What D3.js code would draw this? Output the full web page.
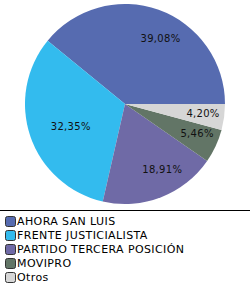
<!DOCTYPE html>
<html>
<head>
<meta charset="utf-8">
<script src="https://cdn.jsdelivr.net/npm/d3@7"></script>
<style>
  body { margin: 0; background: #fff; }
  svg { display: block; font-family: "DejaVu Sans", Verdana, sans-serif; }
</style>
</head>
<body>
<div id="chart"></div>
<script>
const parties = ['AHORA SAN LUIS', 'FRENTE JUSTICIALISTA', 'PARTIDO TERCERA POSICIÓN', 'MOVIPRO', 'Otros']
const shares = [39.08, 32.35, 18.91, 5.46, 4.20]
const colors = ['#566bb0', '#33bbee', '#6f6aa6', '#627566', '#d6d6d6']

const WIDTH = 250
const HEIGHT = 285

const pieChart = (width, height) => {
  const data = parties.map((name, i) => ({ name, value: shares[i] }))

  const color = d3.scaleOrdinal().domain(parties).range(colors)
  const fmt = (v) => d3.format('.2f')(v).replace('.', ',') + '%'

  const svg = d3
    .select('#chart')
    .append('svg')
      .attr('width', width)
      .attr('height', height)

  const cx = 125
  const cy = 104
  const r = 100

  // counterclockwise from 3 o'clock
  const pie = d3
    .pie()
    .sort(null)
    .value((d) => d.value)
    .startAngle(Math.PI / 2)
    .endAngle(Math.PI / 2 - 2 * Math.PI)

  const arc = d3.arc().innerRadius(0).outerRadius(r)
  const labelArc = d3.arc().innerRadius(70).outerRadius(70)

  const g = svg.append('g').attr('transform', `translate(${cx},${cy})`)
  const arcs = pie(data)

  g.selectAll('path')
    .data(arcs)
    .join('path')
      .attr('d', arc)
      .attr('fill', (d) => color(d.data.name))

  // label starts a little left of the centroid
  g.selectAll('text')
    .data(arcs)
    .join('text')
      .attr('x', (d) => labelArc.centroid(d)[0] - 8)
      .attr('y', (d) => labelArc.centroid(d)[1])
      .attr('dy', '0.35em')
      .attr('font-size', 10)
      .attr('letter-spacing', 0.3)
      .attr('fill', '#111')
      .text((d) => fmt(d.data.value))

  svg.append('line')
    .attr('x1', 0)
    .attr('x2', width)
    .attr('y1', 210.5)
    .attr('y2', 210.5)
    .attr('stroke', '#000')

  const legend = svg
    .append('g')
    .selectAll('g')
    .data(data)
    .join('g')
      .attr('transform', (d, i) => `translate(5,${221 + i * 14})`)

  legend.append('rect')
    .attr('x', 0.5)
    .attr('y', -4.5)
    .attr('width', 10)
    .attr('height', 10)
    .attr('rx', 2)
    .attr('fill', (d) => color(d.name))
    .attr('stroke', '#333')

  legend.append('text')
    .attr('x', 12)
    .attr('y', 0)
    .attr('dy', '0.37em')
    .attr('font-size', 11)
    .attr('letter-spacing', 0.4)
    .attr('fill', '#000')
    .text((d) => d.name)
}

pieChart(WIDTH, HEIGHT)
</script>
</body>
</html>
